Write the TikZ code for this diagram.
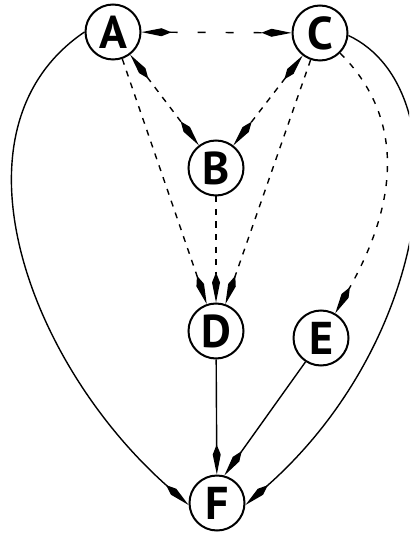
\documentclass[tikz,border=0pt]{standalone}
\usepackage{fontspec}
\newfontfamily\nodefont{PT Sans}
\usetikzlibrary{arrows.meta}
\begin{document}
\begin{tikzpicture}[x=1pt,y=1pt,
  nd/.style={circle, draw, line width=2pt, minimum size=55pt, inner sep=0pt, fill=white,
    font=\nodefont\bfseries\fontsize{46}{46}\selectfont},
  edge/.style={line width=1.4pt},
  dsh/.style={edge, dash pattern=on 6pt off 6.5pt},
  >={Kite[length=30pt,width=8pt,inset=10pt]}]
\useasboundingbox (0,0) rectangle (409,-534);
\clip (0,0) rectangle (409,-534);
\node[nd] (A) at (113,-32) {A};
\node[nd] (C) at (320,-33) {C};
\node[nd] (B) at (216,-168) {B};
\node[nd] (D) at (216,-331) {D};
\node[nd] (E) at (321,-338) {E};
\node[nd] (F) at (217,-503) {F};
\draw[dsh, dash pattern=on 8pt off 20pt, <->] (A) -- (C);
\draw[dsh, <->] (A) -- (B);
\draw[dsh, <->] (C) -- (B);
\draw[dsh, ->] (A) -- (D);
\draw[dsh, ->] (B) -- (D);
\draw[dsh, ->] (C) -- (D);
\draw[dsh, dash pattern=on 6pt off 8pt, ->] (C.-45) .. controls (420.5,-133.5) and (381,-232) .. (E.60);
\draw[edge, ->] (D) -- (F);
\draw[edge, ->] (E.237) -- (F.75);
\draw[edge, ->] (A.180) .. controls (-56,-127) and (25,-360) .. (F.184);
\draw[edge, ->] (C.-5) .. controls (463,-89.6) and (432.5,-340) .. (F.-4);
\end{tikzpicture}
\end{document}
